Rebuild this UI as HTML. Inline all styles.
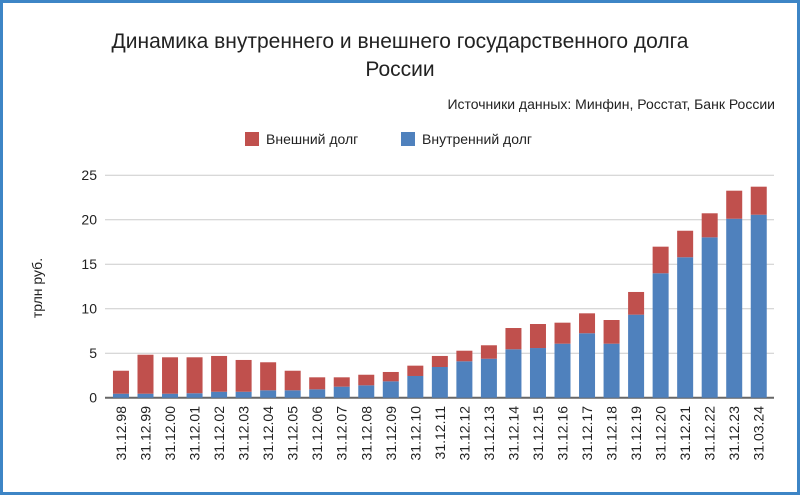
<!DOCTYPE html>
<html><head><meta charset="utf-8"><style>
body{margin:0;background:#fff;}
svg{display:block;font-family:"Liberation Sans","DejaVu Sans",sans-serif;}
</style></head><body>
<svg id="chart" width="800" height="495" viewBox="0 0 800 495">
<rect x="1.5" y="1.5" width="797" height="492" fill="#fff" stroke="#3d85c6" stroke-width="3"/>
<text x="400" y="48" text-anchor="middle" font-size="21" fill="#222">Динамика внутреннего и внешнего государственного долга</text>
<text x="400" y="76" text-anchor="middle" font-size="21" fill="#222">России</text>
<text x="775" y="109" text-anchor="end" font-size="14" fill="#222">Источники данных: Минфин, Росстат, Банк России</text>
<g>
<rect x="245" y="132" width="14" height="14" fill="#c0504d"/>
<text x="266" y="144" font-size="14" fill="#222">Внешний долг</text>
<rect x="401" y="132" width="14" height="14" fill="#4f81bd"/>
<text x="422" y="144" font-size="14" fill="#222">Внутренний долг</text>
</g>
<text transform="translate(42,288) rotate(-90)" text-anchor="middle" font-size="14" fill="#222">трлн руб.</text>
<g id="grid"></g><g id="bars"></g><g id="xlabels"></g>
</svg>
<script>
const categories=["31.12.98","31.12.99","31.12.00","31.12.01","31.12.02","31.12.03","31.12.04","31.12.05","31.12.06","31.12.07","31.12.08","31.12.09","31.12.10","31.12.11","31.12.12","31.12.13","31.12.14","31.12.15","31.12.16","31.12.17","31.12.18","31.12.19","31.12.20","31.12.21","31.12.22","31.12.23","31.03.24"];
const internalDebt=[0.45,0.45,0.45,0.5,0.67,0.67,0.83,0.83,0.94,1.24,1.39,1.84,2.44,3.45,4.09,4.38,5.44,5.58,6.07,7.24,6.07,9.33,13.98,15.78,18.02,20.11,20.56];
const externalDebt=[2.58,4.38,4.09,4.04,4.02,3.57,3.15,2.2,1.35,1.05,1.19,1.05,1.16,1.24,1.19,1.51,2.39,2.7,2.36,2.24,2.66,2.55,2.99,2.98,2.7,3.15,3.15];
const yTicks=[0,5,10,15,20,25];
const NS="http://www.w3.org/2000/svg";
const y0=397.7,pxPer=8.9,xStart=108.7,band=24.53,bw=16;
const yS=v=>y0-v*pxPer;
const xS=i=>xStart+band*i+band/2;
function mk(t,a,p){const e=document.createElementNS(NS,t);for(const k in a)e.setAttribute(k,a[k]);p.appendChild(e);return e;}
const grid=document.getElementById('grid'),bars=document.getElementById('bars'),xl=document.getElementById('xlabels');
yTicks.forEach(v=>{
 const l=mk('line',{x1:105,x2:774,y1:yS(v),y2:yS(v),stroke:v===0?'#666':'#ccc','stroke-width':v===0?2:1},grid);
 
 
 const t=mk('text',{x:97,y:yS(v)+5,'text-anchor':'end','font-size':14,fill:'#222'},grid);
 t.textContent=v;
 
 
});
categories.forEach((c,i)=>{
 const x=xS(i)-bw/2;
 const b=mk('rect',{x:x,y:yS(internalDebt[i]),width:bw,height:internalDebt[i]*pxPer,fill:'#4f81bd'},bars);
 
 
 const tot=internalDebt[i]+externalDebt[i];
 const r=mk('rect',{x:x,y:yS(tot),width:bw,height:externalDebt[i]*pxPer,fill:'#c0504d'},bars);
 
 
 const t=mk('text',{transform:`translate(${xS(i)+5},406) rotate(-90)`,'text-anchor':'end','font-size':14,fill:'#222'},xl);
 t.textContent=c;
 
 
});
</script>
</body></html>
